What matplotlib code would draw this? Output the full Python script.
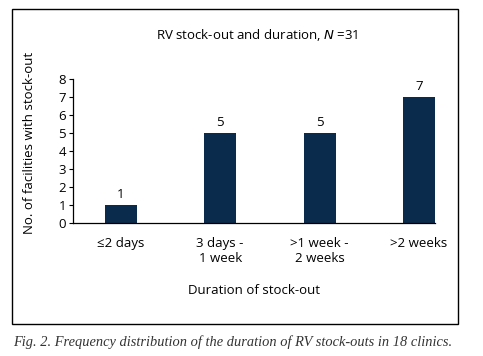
import matplotlib
matplotlib.use("Agg")
import matplotlib.pyplot as plt
from matplotlib.patches import Rectangle

categories = ["≤2 days", "3 days -\n1 week", ">1 week -\n2 weeks", ">2 weeks"]
values = [1, 5, 5, 7]
yticks = [0, 1, 2, 3, 4, 5, 6, 7, 8]

W, H = 483, 356
fig = plt.figure(figsize=(W / 100, H / 100), dpi=100)
plt.rcParams['font.family'] = ['Open Sans', 'DejaVu Sans']
fs = 9.5

# outer frame
fig.patches.append(Rectangle((12 / W, 1 - 324 / H), (458 - 12) / W, (324 - 9) / H,
                             transform=fig.transFigure, fill=False, lw=1.0,
                             edgecolor='black'))

left, right, top, bottom = 73, 435, 79, 223
ax = fig.add_axes([left / W, 1 - bottom / H, (right - left) / W, (bottom - top) / H])
color = '#0a2b4c'
x = list(range(len(categories)))
bars = ax.bar(x, values, width=0.32, color=color)
for xi, v in zip(x, values):
    ax.annotate(str(v), (xi, v), xytext=(0, 3), textcoords='offset points',
                ha='center', va='bottom', fontsize=fs)
ax.set_xlim(-0.48, 3.16)
ax.set_ylim(0, 8)
ax.set_yticks(yticks)
ax.set_xticks(x)
ax.set_xticklabels(categories, fontsize=fs, linespacing=1.2)
ax.tick_params(axis='x', length=0, pad=10)
ax.tick_params(axis='y', length=3, width=0.8, labelsize=fs, pad=2)
for s in ['top', 'right']:
    ax.spines[s].set_visible(False)
for s in ['left', 'bottom']:
    ax.spines[s].set_linewidth(0.9)

fig.text(257 / W, 1 - 35 / H, "RV stock-out and duration, $\\it{N}$ =31",
         ha='center', va='center', fontsize=fs)
fig.text(30 / W, 1 - 143 / H, "No. of facilities with stock-out", rotation=90,
         ha='center', va='center', fontsize=fs)
fig.text(254 / W, 1 - 290 / H, "Duration of stock-out", ha='center', va='center',
         fontsize=fs)
fig.text(13 / W, 1 - 342 / H,
         "Fig. 2. Frequency distribution of the duration of RV stock-outs in 18 clinics.",
         ha='left', va='center', fontsize=10.4, family='Liberation Serif',
         style='italic', color='#333333')

fig.savefig("out.png", dpi=100)
